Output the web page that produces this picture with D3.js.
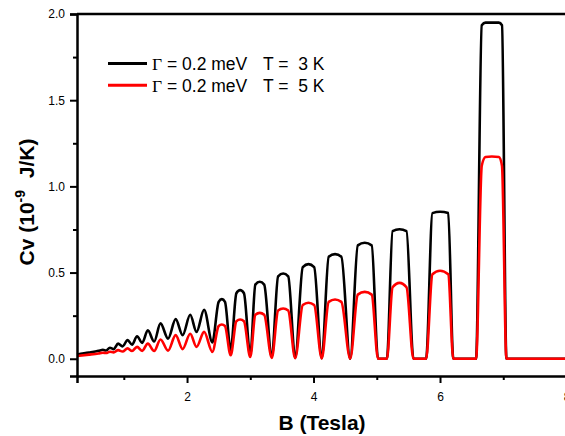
<!DOCTYPE html>
<html>
<head>
<meta charset="utf-8">
<script src="https://cdn.jsdelivr.net/npm/d3@7"></script>
<style>
  body { margin: 0; background: #fff; }
  svg { display: block; font-family: "Liberation Sans", Arial, sans-serif; }
</style>
</head>
<body>
<svg id="chart" width="565" height="436"></svg>
<script>
// magnetic field (Tesla)
var fieldB = [0.26, 0.45, 0.60, 0.67, 0.72, 0.78, 0.84, 0.91, 0.98, 1.06, 1.13, 1.21, 1.29, 1.38, 1.48, 1.58, 1.70, 1.82, 1.93, 2.05, 2.15, 2.27, 2.40,
    2.50, 2.55, 2.60, 2.69, 2.78, 2.84, 2.90, 3.00, 3.08, 3.15, 3.22, 3.34, 3.44, 3.52, 3.60, 3.71, 3.83, 3.92, 4.01, 4.13,
    4.24, 4.34, 4.44, 4.58, 4.70, 4.81, 4.92, 5.02, 5.16, 5.25, 5.36, 5.47, 5.58, 5.78, 5.88, 6.00, 6.13, 6.21,
    6.57, 6.66, 6.72, 6.82, 6.93, 6.98, 7.05, 8.00];

// Cv (1e-9 J/K), T = 3 K
var cv3K = [0.025, 0.036, 0.046, 0.052, 0.048, 0.064, 0.056, 0.088, 0.072, 0.108, 0.082, 0.131, 0.092, 0.165, 0.100, 0.205, 0.117, 0.230, 0.137, 0.255, 0.156, 0.284, 0.095,
    0.330, 0.346, 0.330, 0.050, 0.380, 0.398, 0.380, 0.020, 0.430, 0.447, 0.430, 0.010, 0.478, 0.495, 0.478, 0.005, 0.532, 0.549, 0.532, 0.003,
    0.592, 0.607, 0.592, 0.000, 0.658, 0.673, 0.658, 0.000, 0.000, 0.740, 0.751, 0.740, 0.000, 0.000, 0.845, 0.853, 0.845, 0.000,
    0.000, 1.935, 1.950, 1.950, 1.950, 1.935, 0.000, 0.000];

// Cv (1e-9 J/K), T = 5 K
var cv5K = [0.016, 0.024, 0.031, 0.035, 0.033, 0.041, 0.037, 0.050, 0.042, 0.060, 0.045, 0.069, 0.046, 0.088, 0.045, 0.112, 0.047, 0.137, 0.056, 0.145, 0.069, 0.156, 0.040,
    0.190, 0.199, 0.190, 0.020, 0.218, 0.228, 0.218, 0.010, 0.255, 0.266, 0.255, 0.005, 0.280, 0.292, 0.280, 0.003, 0.312, 0.325, 0.312, 0.002,
    0.330, 0.344, 0.330, 0.000, 0.372, 0.388, 0.372, 0.000, 0.000, 0.415, 0.440, 0.415, 0.000, 0.000, 0.490, 0.511, 0.490, 0.000,
    0.000, 1.120, 1.170, 1.173, 1.170, 1.120, 0.000, 0.000];

var xMajor = [2, 4, 6, 8];
var xMinor = [1, 3, 5, 7];
var yMajor = [0, 0.5, 1.0, 1.5, 2.0];
var yMinor = [0.25, 0.75, 1.25, 1.75];

var legendLabels = [
    { gamma: "Γ = 0.2 meV", temp: "T =  3 K", color: "#000000" },
    { gamma: "Γ = 0.2 meV", temp: "T =  5 K", color: "#ff0000" }
];

var plot = { left: 77, right: 566.5, top: 14, bottom: 376 };

var svg = d3.select("#chart");

var x = d3.scaleLinear().domain([0.26, 8]).range([plot.left, plot.right]);
var y = d3.scaleLinear().domain([-0.1, 2.0]).range([plot.bottom, plot.top]);

function drawCurve(values, color) {
    var pts = fieldB.map(function (b, i) { return [b, values[i]]; });
    var line = d3.line()
        .curve(d3.curveMonotoneX)
        .x(function (d) { return x(d[0]); })
        .y(function (d) { return y(d[1]); });
    svg.append("path")
        .datum(pts)
        .attr("d", line)
        .attr("fill", "none")
        .attr("stroke", color)
        .attr("stroke-width", 2.6)
        .attr("stroke-linejoin", "round");
}

drawCurve(cv3K, "#000000");
drawCurve(cv5K, "#ff0000");

// frame (top + right)
svg.append("path")
    .attr("d", "M" + plot.left + "," + plot.top + "H" + plot.right + "V" + plot.bottom)
    .attr("fill", "none")
    .attr("stroke", "#000")
    .attr("stroke-width", 2.5);

// x axis
svg.append("g")
    .attr("transform", "translate(0," + plot.bottom + ")")
    .call(d3.axisBottom(x).tickValues(xMajor).tickSize(7).tickPadding(9).tickFormat(d3.format("d")));
svg.append("g")
    .attr("transform", "translate(0," + plot.bottom + ")")
    .call(d3.axisBottom(x).tickValues(xMinor).tickSize(4).tickFormat(""))
    .select(".domain").remove();

// y axis
svg.append("g")
    .attr("transform", "translate(" + plot.left + ",0)")
    .call(d3.axisLeft(y).tickValues(yMajor).tickSize(7).tickPadding(5).tickFormat(d3.format(".1f")));
svg.append("g")
    .attr("transform", "translate(" + plot.left + ",0)")
    .call(d3.axisLeft(y).tickValues(yMinor).tickSize(4).tickFormat(""))
    .select(".domain").remove();

svg.selectAll(".domain").attr("stroke", "#000").attr("stroke-width", 2.5);
svg.selectAll(".tick line").attr("stroke", "#000").attr("stroke-width", 2);
svg.selectAll(".tick text")
    .attr("fill", "#000")
    .style("font-family", "'Liberation Sans', Arial, sans-serif")
    .style("font-size", "12px");

// axis titles
svg.append("text")
    .attr("x", 322)
    .attr("y", 430)
    .attr("text-anchor", "middle")
    .style("font-size", "21px")
    .style("font-weight", "bold")
    .text("B (Tesla)");

var yTitle = svg.append("text")
    .attr("transform", "translate(34,202) rotate(-90)")
    .attr("text-anchor", "middle")
    .style("font-size", "21px")
    .style("font-weight", "bold")
    .style("white-space", "pre");
yTitle.append("tspan").text("Cv (10");
yTitle.append("tspan").attr("dy", -9).style("font-size", "14px").text("-9");
yTitle.append("tspan").attr("dy", 9).text("  J/K)");

// legend
var legend = svg.append("g");
legendLabels.forEach(function (d, i) {
    var ly = 63.5 + i * 21.7;
    legend.append("line")
        .attr("x1", 108).attr("x2", 147)
        .attr("y1", ly).attr("y2", ly)
        .attr("stroke", d.color)
        .attr("stroke-width", 3);
    var t = legend.append("text")
        .attr("x", 152)
        .attr("y", ly + 6.5)
        .style("font-size", "17.5px");
    t.append("tspan").style("font-family", "'Liberation Serif', 'Times New Roman', serif").text(d.gamma.slice(0, 1));
    t.append("tspan").text(d.gamma.slice(1));
    legend.append("text")
        .attr("x", 263)
        .attr("y", ly + 6.5)
        .style("font-size", "17.5px")
        .style("white-space", "pre")
        .text(d.temp);
});
</script>
</body>
</html>
